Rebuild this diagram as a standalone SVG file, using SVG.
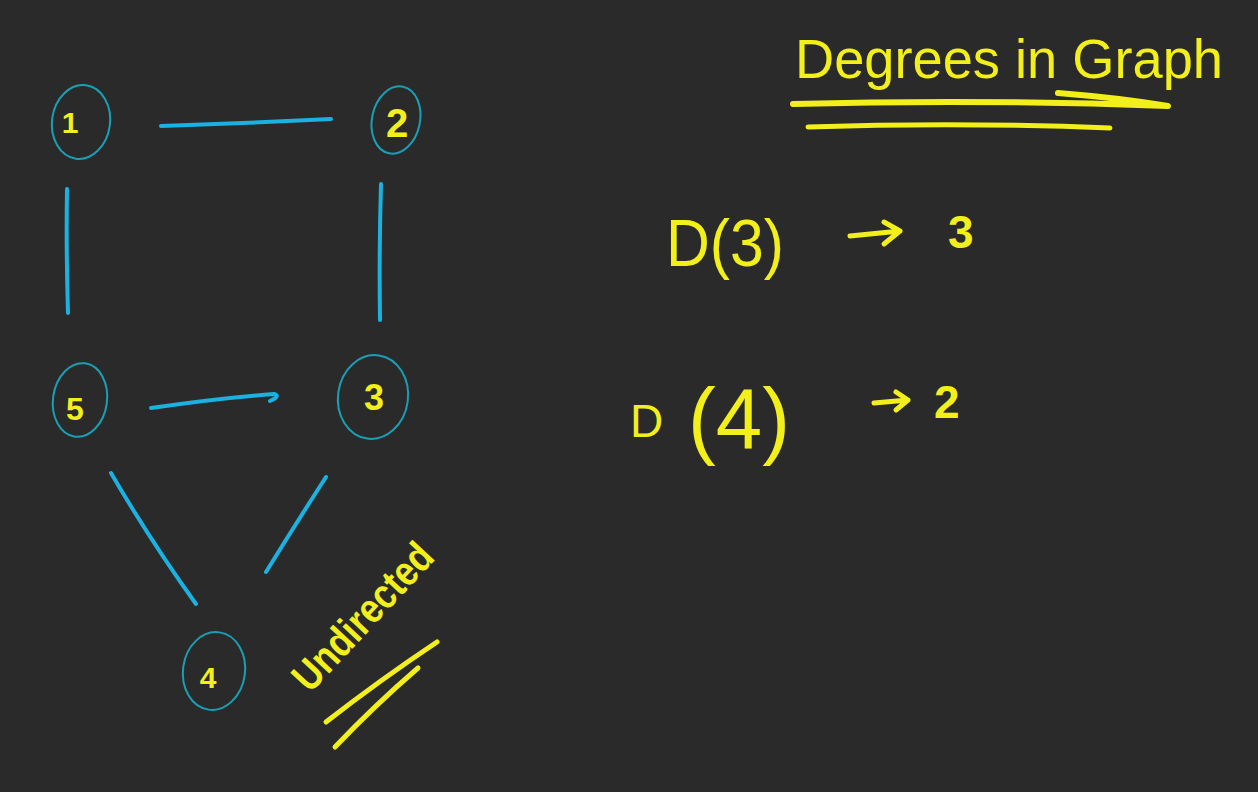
<svg xmlns="http://www.w3.org/2000/svg" width="1258" height="792" viewBox="0 0 1258 792">
<style>
.node{fill:none;stroke:#1a9fb5;stroke-width:2}
.edge{fill:none;stroke:#1ab2e2;stroke-width:4;stroke-linecap:round}
.lbl{fill:#f2ef1a;font-family:"Liberation Sans",Arial,sans-serif;text-anchor:middle}
.hand{fill:#f2ef1a;font-family:"Liberation Sans",Arial,sans-serif}
.ink{fill:none;stroke:#f2ef1a;stroke-linecap:round;stroke-linejoin:round}
</style>
<rect width="1258" height="792" fill="#2a2a2a"/>
<g id="connectors">
<path class="edge" d="M161 126 Q250 123 331 119"/>
<path class="edge" d="M67 189 Q66 250 68 313"/>
<path class="edge" d="M381 184 Q379 250 380 320"/>
<path class="edge" d="M151 408 Q220 398 274 394 Q281 396 270 401"/>
<path class="edge" d="M111 473 Q150 540 196 604"/>
<path class="edge" d="M326 477 Q295 525 266 572"/>
</g>
<g id="node-1">
<ellipse class="node" cx="81" cy="122" rx="29" ry="37" transform="rotate(8 81 122)"/>
<text class="lbl" x="70" y="133" font-size="30" font-weight="bold">1</text>
</g>
<g id="node-2">
<ellipse class="node" cx="396" cy="120" rx="24" ry="34" transform="rotate(12 396 120)"/>
<text class="lbl" x="397" y="137" font-size="40" font-weight="bold">2</text>
</g>
<g id="node-5">
<ellipse class="node" cx="80" cy="400" rx="27" ry="37" transform="rotate(8 80 400)"/>
<text class="lbl" x="75" y="420" font-size="32" font-weight="bold">5</text>
</g>
<g id="node-3">
<ellipse class="node" cx="373" cy="397" rx="35" ry="42" transform="rotate(8 373 397)"/>
<text class="lbl" x="374" y="410" font-size="36" font-weight="bold">3</text>
</g>
<g id="node-4">
<ellipse class="node" cx="214" cy="671" rx="31" ry="39" transform="rotate(8 214 671)"/>
<text class="lbl" x="208" y="688" font-size="30" font-weight="bold">4</text>
</g>
<g id="title">
<text class="hand" x="795" y="78" font-size="56" textLength="428" lengthAdjust="spacingAndGlyphs">Degrees in Graph</text>
<path class="ink" stroke-width="6" d="M793 104 Q980 99 1168 106 Q1120 98 1058 93"/>
<path class="ink" stroke-width="5" d="M808 127 Q960 122 1110 128"/>
</g>
<g id="degree-3">
<text class="hand" x="666" y="266" font-size="66" textLength="118" lengthAdjust="spacingAndGlyphs">D(3)</text>
<path class="ink" stroke-width="5" d="M850 236 L900 231 M884 222 L900 231 L884 244"/>
<text class="hand" x="948" y="248" font-size="46" font-weight="bold">3</text>
</g>
<g id="degree-4">
<text class="hand" x="630" y="437" font-size="46">D</text>
<text class="hand" x="688" y="448" font-size="86" textLength="102" lengthAdjust="spacingAndGlyphs">(4)</text>
<path class="ink" stroke-width="5" d="M874 403 L908 400 M896 392 L908 400 L896 410"/>
<text class="hand" x="934" y="418" font-size="46" font-weight="bold">2</text>
</g>
<g id="undirected">
<text class="hand" font-size="42" font-weight="bold" textLength="185" lengthAdjust="spacingAndGlyphs" transform="translate(310 694) rotate(-47)">Undirected</text>
<path class="ink" stroke-width="5" d="M326 722 Q380 680 437 642"/>
<path class="ink" stroke-width="5" d="M335 747 Q375 705 418 668"/>
</g>
</svg>
